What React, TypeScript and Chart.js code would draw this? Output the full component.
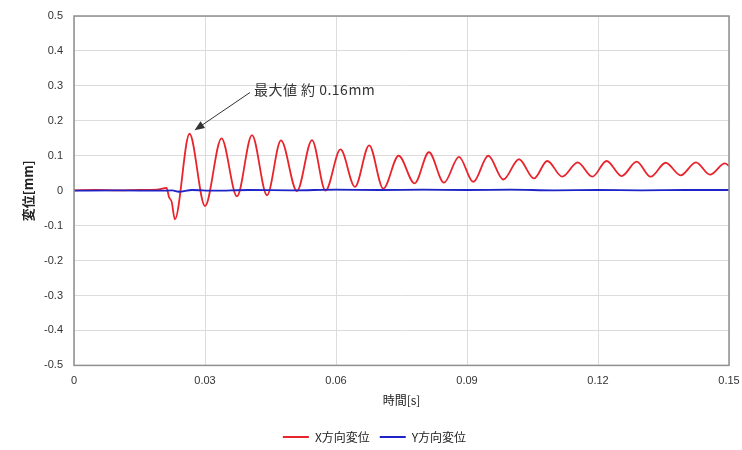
import React, { useEffect, useRef } from "react";
import { Chart, registerables } from "chart.js";

Chart.register(...registerables);

// ---- data ----
const xTimes = [
  0, 0.005, 0.01, 0.015, 0.019, 0.0212, 0.02175, 0.02237, 0.0231,
  0.02645, 0.0300, 0.03378, 0.03733, 0.04076, 0.0442, 0.0474, 0.05106,
  0.0545, 0.0576, 0.06103, 0.06435, 0.0676, 0.07083, 0.07435, 0.0780,
  0.08129, 0.08473, 0.08816, 0.09144, 0.09487, 0.09831, 0.1019, 0.10534,
  0.10838, 0.11182, 0.11534, 0.11869, 0.12198, 0.12542, 0.12885, 0.13206,
  0.13549, 0.13893, 0.14243, 0.14564, 0.14907, 0.15,
];
const xValues = [
  0.001, 0.002, 0.001, 0.002, 0.003, 0.008, -0.018, -0.032, -0.082,
  0.163, -0.044, 0.150, -0.016, 0.159, -0.013, 0.144, -0.001,
  0.145, 0.000, 0.118, 0.011, 0.130, 0.006, 0.100, 0.021,
  0.110, 0.023, 0.097, 0.025, 0.100, 0.032, 0.090, 0.035,
  0.085, 0.040, 0.081, 0.040, 0.085, 0.042, 0.083, 0.040,
  0.080, 0.044, 0.081, 0.046, 0.078, 0.071,
];
const yTimes = [
  0, 0.01, 0.02, 0.0225, 0.024, 0.027, 0.032, 0.04, 0.05, 0.06, 0.07,
  0.08, 0.09, 0.1, 0.11, 0.12, 0.13, 0.14, 0.15,
];
const yValues = [
  0, 0.001, 0.0, 0.001, -0.003, 0.002, 0.0, 0.002, 0.001, 0.003, 0.002,
  0.003, 0.002, 0.003, 0.001, 0.002, 0.001, 0.002, 0.002,
];
const seriesNames = ["X方向変位", "Y方向変位"];
const xTickValues = [0, 0.03, 0.06, 0.09, 0.12, 0.15];
const xTickLabels = ["0", "0.03", "0.06", "0.09", "0.12", "0.15"];
const yTickValues = [-0.5, -0.4, -0.3, -0.2, -0.1, 0, 0.1, 0.2, 0.3, 0.4, 0.5];
const yTickLabels = ["-0.5", "-0.4", "-0.3", "-0.2", "-0.1", "0", "0.1", "0.2", "0.3", "0.4", "0.5"];
const xTitle = "時間[s]";
const yTitle = "変位[mm]";
const noteText = "最大値 約 0.16mm";
// annotation anchor points in data units (time, value)
const noteArrowTip = { t: 0.0276, v: 0.173 };
const noteArrowTail = { t: 0.0403, v: 0.281 };
const noteTextPos = { t: 0.0412, v: 0.288 };

const JP = '"Noto Sans CJK JP", "Noto Sans", sans-serif';
const NUM = '"Liberation Sans", Arial, sans-serif';

const framePlugin = {
  id: "frameAndNote",
  afterDraw(chart: any) {
    const { ctx, chartArea, scales } = chart;
    const xs = scales.x;
    const ys = scales.y;
    ctx.save();
    // plot frame
    ctx.strokeStyle = "#8f8f8f";
    ctx.lineWidth = 1.5;
    ctx.strokeRect(chartArea.left, chartArea.top, chartArea.right - chartArea.left, chartArea.bottom - chartArea.top);
    // arrow
    const x1 = xs.getPixelForValue(noteArrowTail.t);
    const y1 = ys.getPixelForValue(noteArrowTail.v);
    const x2 = xs.getPixelForValue(noteArrowTip.t);
    const y2 = ys.getPixelForValue(noteArrowTip.v);
    const ang = Math.atan2(y2 - y1, x2 - x1);
    const head = 10;
    const hw = 4;
    ctx.strokeStyle = "#333";
    ctx.fillStyle = "#333";
    ctx.lineWidth = 1;
    ctx.beginPath();
    ctx.moveTo(x1, y1);
    ctx.lineTo(x2 - Math.cos(ang) * head * 0.8, y2 - Math.sin(ang) * head * 0.8);
    ctx.stroke();
    ctx.beginPath();
    ctx.moveTo(x2, y2);
    ctx.lineTo(x2 - Math.cos(ang) * head - Math.sin(ang) * hw, y2 - Math.sin(ang) * head + Math.cos(ang) * hw);
    ctx.lineTo(x2 - Math.cos(ang) * head + Math.sin(ang) * hw, y2 - Math.sin(ang) * head - Math.cos(ang) * hw);
    ctx.closePath();
    ctx.fill();
    // text
    ctx.font = `14px ${JP}`;
    ctx.fillStyle = "#333";
    ctx.textAlign = "left";
    ctx.textBaseline = "middle";
    try { (ctx as any).letterSpacing = "0.5px"; } catch (e) {}
    ctx.fillText(noteText, xs.getPixelForValue(noteTextPos.t), ys.getPixelForValue(noteTextPos.v));
    ctx.restore();
  },
};

export default function App() {
  const ref = useRef<HTMLCanvasElement | null>(null);
  useEffect(() => {
    if (!ref.current) return;
    const chart = new Chart(ref.current, {
      type: "line",
      data: {
        datasets: [
          {
            label: seriesNames[0],
            data: xTimes.map((t, i) => ({ x: t, y: xValues[i] })),
            borderColor: "#e8242c",
            backgroundColor: "#e8242c",
            borderWidth: 1.8,
            pointRadius: 0,
            cubicInterpolationMode: "monotone",
            order: 1,
          },
          {
            label: seriesNames[1],
            data: yTimes.map((t, i) => ({ x: t, y: yValues[i] })),
            borderColor: "#1f24c8",
            backgroundColor: "#1f24c8",
            borderWidth: 1.8,
            pointRadius: 0,
            cubicInterpolationMode: "monotone",
            order: 0,
          },
        ],
      },
      options: {
        animation: false,
        responsive: false,
        layout: { padding: { left: 20, right: 13, top: 16, bottom: -3 } },
        plugins: {
          tooltip: { enabled: false },
          legend: {
            position: "bottom",
            labels: {
              boxWidth: 26,
              boxHeight: 2,
              padding: 10,
              color: "#222",
              font: { family: JP, size: 12 },
              sort: (a: any, b: any) => a.datasetIndex - b.datasetIndex,
              generateLabels: (c: any) =>
                (Chart.defaults.plugins.legend.labels.generateLabels as any)(c).map((l: any) => ({
                  ...l,
                  lineWidth: 0,
                  fillStyle: l.strokeStyle,
                })),
            },
          },
        },
        scales: {
          x: {
            type: "linear",
            min: 0,
            max: 0.15,
            afterBuildTicks: (s: any) => {
              s.ticks = xTickValues.map((v) => ({ value: v }));
            },
            afterFit: (s: any) => {
              s.height = 55.6;
              s.paddingRight = 0;
              s.paddingLeft = 0;
            },
            ticks: {
              padding: 9,
              color: "#333",
              font: { family: NUM, size: 11 },
              maxRotation: 0,
              callback: (_v: any, i: number) => xTickLabels[i],
            },
            grid: { color: "#dcdcdc", lineWidth: 1, drawTicks: false, tickLength: 0 },
            border: { display: false },
            title: {
              display: true,
              text: xTitle,
              color: "#222",
              font: { family: JP, size: 12 },
              padding: { top: 4, bottom: 13 },
            },
          },
          y: {
            type: "linear",
            min: -0.5,
            max: 0.5,
            afterBuildTicks: (s: any) => {
              s.ticks = yTickValues.map((v) => ({ value: v }));
            },
            afterFit: (s: any) => {
              s.width = 54;
              s.paddingTop = 0;
              s.paddingBottom = 0;
            },
            ticks: {
              padding: 11,
              color: "#333",
              font: { family: NUM, size: 11 },
              callback: (_v: any, i: number) => yTickLabels[i],
            },
            grid: { color: "#dcdcdc", lineWidth: 1, drawTicks: false, tickLength: 0 },
            border: { display: false },
            title: {
              display: true,
              text: yTitle,
              color: "#222",
              font: { family: JP, size: 13, weight: "bold" },
              padding: { top: 0, bottom: 0 },
            },
          },
        },
      },
      plugins: [framePlugin],
    } as any);
    return () => chart.destroy();
  }, []);
  return (
    <div style={{ position: "fixed", left: 0, top: 0, width: 742, height: 450, background: "#fff" }}>
      <canvas ref={ref} width={742} height={450} style={{ display: "block", width: 742, height: 450 }} />
    </div>
  );
}
